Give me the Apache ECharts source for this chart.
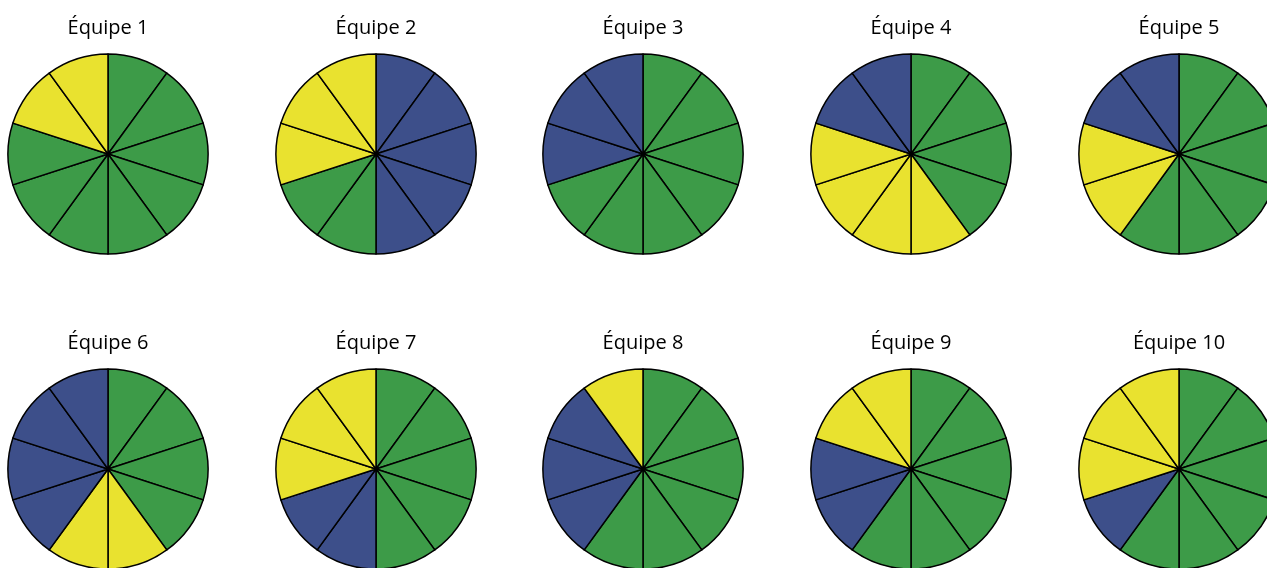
<!DOCTYPE html>
<html>
<head>
<meta charset="utf-8">
<script src="https://cdn.jsdelivr.net/npm/echarts@6/dist/echarts.min.js"></script>
<style>
html,body{margin:0;padding:0;background:#fff;}
#chart{width:1267px;height:568px;}
</style>
</head>
<body>
<div id="chart"></div>
<script>
// Team names
const teamNames = ['Équipe 1','Équipe 2','Équipe 3','Équipe 4','Équipe 5','Équipe 6','Équipe 7','Équipe 8','Équipe 9','Équipe 10'];
// Slice categories, clockwise from 12 o'clock (each slice = 1 unit)
const team1  = ['G','G','G','G','G','G','G','G','Y','Y'];
const team2  = ['B','B','B','B','B','G','G','Y','Y','Y'];
const team3  = ['G','G','G','G','G','G','G','B','B','B'];
const team4  = ['G','G','G','G','Y','Y','Y','Y','B','B'];
const team5  = ['G','G','G','G','G','G','Y','Y','B','B'];
const team6  = ['G','G','G','G','Y','Y','B','B','B','B'];
const team7  = ['G','G','G','G','G','B','B','Y','Y','Y'];
const team8  = ['G','G','G','G','G','G','B','B','B','Y'];
const team9  = ['G','G','G','G','G','G','B','B','Y','Y'];
const team10 = ['G','G','G','G','G','G','B','Y','Y','Y'];
const teams = [team1,team2,team3,team4,team5,team6,team7,team8,team9,team10];
const colorOf = {G:'#3d9b48', B:'#3d4f8a', Y:'#e9e22f'};

const chart = echarts.init(document.getElementById('chart'), null, {renderer:'canvas'});
const colX = [108, 376, 643, 911, 1179];
const rowY = [154, 469];
const titles = [], series = [];
teams.forEach((t, i) => {
  const cx = colX[i % 5], cy = rowY[Math.floor(i / 5)];
  titles.push({
    text: teamNames[i],
    left: cx, top: cy - 136,
    padding: 0,
    textAlign: 'center',
    textStyle: {fontFamily: 'Open Sans', fontSize: 20, fontWeight: 'normal', color: '#000'}
  });
  series.push({
    type: 'pie',
    center: [cx, cy],
    radius: [0, 100],
    startAngle: 90,
    clockwise: true,
    silent: true,
    animation: false,
    label: {show: false},
    labelLine: {show: false},
    itemStyle: {borderColor: '#000', borderWidth: 1.5},
    data: t.map((c, k) => ({name: c + k, value: 1, itemStyle: {color: colorOf[c]}}))
  });
});
chart.setOption({backgroundColor: '#fff', animation: false, title: titles, series: series});
</script>
</body>
</html>
